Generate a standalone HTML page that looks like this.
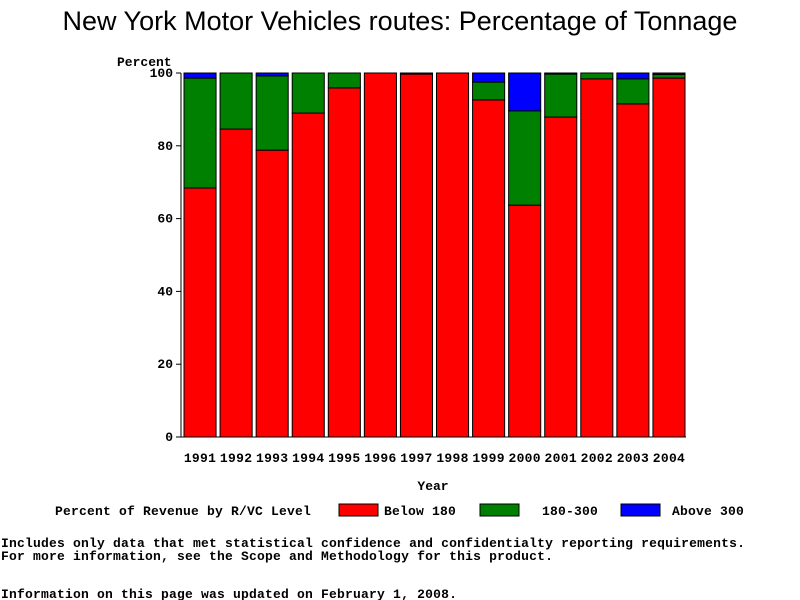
<!DOCTYPE html>
<html><head><meta charset="utf-8"><style>
body{margin:0;background:#fff;}
svg{display:block;}
text{font-family:"Liberation Mono",monospace;font-size:13px;fill:#000;font-weight:bold;}
.fn{letter-spacing:0.2px;}
</style></head><body>
<svg id="chart" width="800" height="600" viewBox="0 0 800 600" xmlns="http://www.w3.org/2000/svg">
<text x="400" y="30" text-anchor="middle" style="font-family:'Liberation Sans',sans-serif;font-size:27px;font-weight:normal">New York Motor Vehicles routes: Percentage of Tonnage</text>
<text x="117" y="66">Percent</text>
<text x="433" y="490" text-anchor="middle">Year</text>
<g id="plot"></g>
<g>
<text x="55" y="515" class="fn">Percent of Revenue by R/VC Level</text>
<rect x="339" y="504" width="39" height="12" fill="#ff0000" stroke="#000"/>
<text x="384" y="515" class="fn">Below 180</text>
<rect x="480" y="504" width="39" height="12" fill="#008000" stroke="#000"/>
<text x="542" y="515" class="fn">180-300</text>
<rect x="621" y="504" width="39" height="12" fill="#0000ff" stroke="#000"/>
<text x="672" y="515" class="fn">Above 300</text>
</g>
<text class="fn" x="1" y="547">Includes only data that met statistical confidence and confidentialty reporting requirements.</text>
<text class="fn" x="1" y="560">For more information, see the Scope and Methodology for this product.</text>
<text class="fn" x="1" y="598">Information on this page was updated on February 1, 2008.</text>
</svg>
<script>
const years = ["1991","1992","1993","1994","1995","1996","1997","1998","1999","2000","2001","2002","2003","2004"];
const below180 = [68.4,84.6,78.8,89.0,95.9,100,99.7,100,92.6,63.7,87.9,98.4,91.5,98.6];
const mid180to300 = [30.2,15.4,20.4,11.0,4.1,0,0.3,0,4.9,25.9,11.8,1.6,6.9,1.0];
const above300 = [1.4,0,0.8,0,0,0,0,0,2.5,10.4,0.3,0,1.6,0.4];
const yTicks = [0,20,40,60,80,100];

const NS="http://www.w3.org/2000/svg";
const g=document.getElementById('plot');
const x0=181,x1=686,yTop=73,yBot=437;
const y=v=>yBot-(v/100)*(yBot-yTop);
const step=(x1-x0)/years.length;
const bx=i=>x0+i*step+3;
const bw=step-4;
function mk(tag,attrs){const e=document.createElementNS(NS,tag);for(const k in attrs)e.setAttribute(k,attrs[k]);g.appendChild(e);return e;}
const ax=mk('line',{x1:x0,y1:yTop,x2:x0,y2:yBot,stroke:'#000'});


const bl=mk('line',{x1:x0,y1:yBot,x2:x1,y2:yBot,stroke:'#000'});


yTicks.forEach(t=>{
  const l=mk('line',{x1:x0-5,y1:y(t),x2:x0,y2:y(t),stroke:'#000'});
  
  
  const tx=mk('text',{x:x0-8,y:y(t)+4,'text-anchor':'end'});
  tx.textContent=t;
  
  
});
const series=[[below180,'#ff0000','below-180'],[mid180to300,'#008000','180-300'],[above300,'#0000ff','above-300']];
years.forEach((yr,i)=>{
  let acc=0;
  series.forEach(([arr,col,nm])=>{
    const v=arr[i];
    if(v>0){
      const r=mk('rect',{x:bx(i),y:y(acc+v),width:bw,height:y(acc)-y(acc+v),fill:col,stroke:'#000','stroke-width':1});
      
      
    }
    acc+=v;
  });
  const t=mk('text',{x:bx(i)+bw/2,y:462,'text-anchor':'middle','letter-spacing':'0.3px'});
  t.textContent=yr;
  
  
});
</script>
</body></html>
